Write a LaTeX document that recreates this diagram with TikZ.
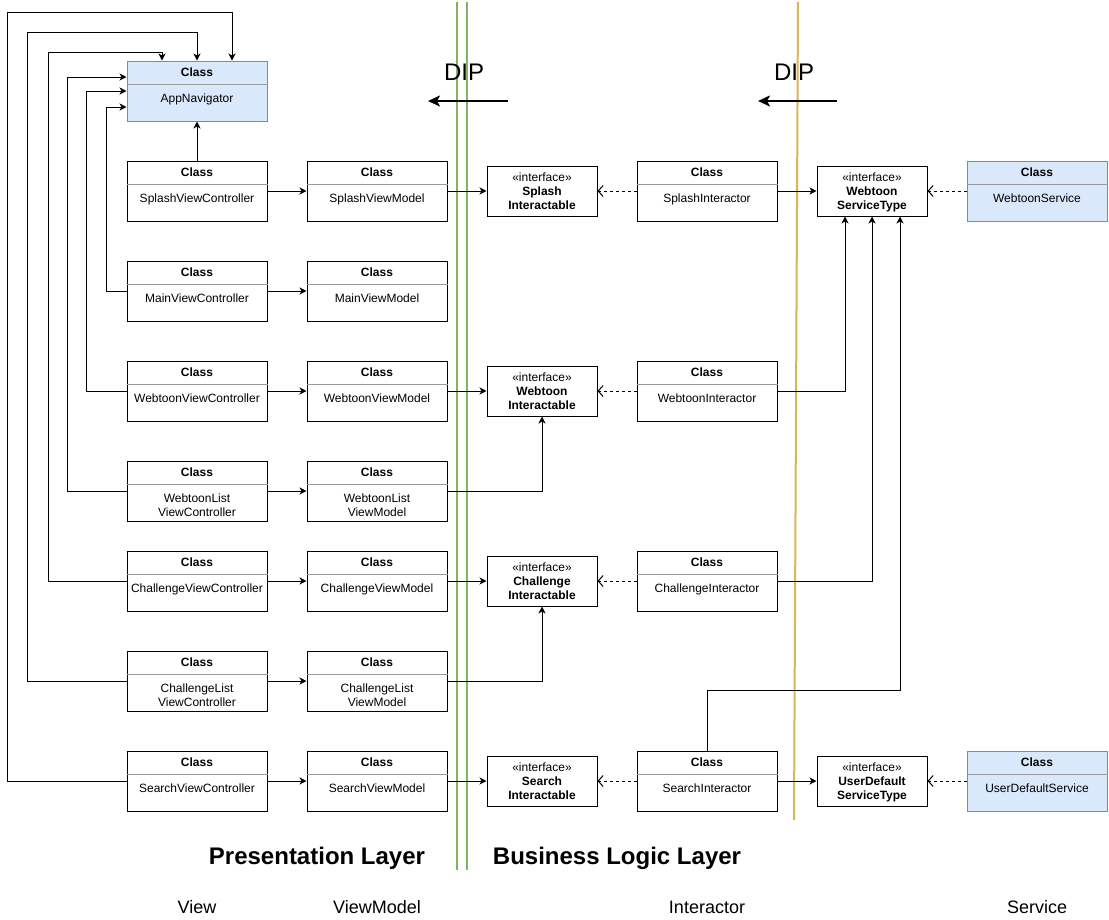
\documentclass[tikz,border=0pt]{standalone}
\usepackage{fontspec}
\setmainfont{Liberation Sans}
\usetikzlibrary{arrows.meta, positioning, calc}
\definecolor{navblue}{HTML}{DAE8FC}
\definecolor{navborder}{HTML}{6C8EBF}
\definecolor{layergreen}{HTML}{82B366}
\definecolor{layeryellow}{HTML}{D6B656}
\definecolor{rulegray}{HTML}{9A9A9A}

% class box with header "Class", separator and body text
\newcommand{\umlclass}[4][classbox]{%
	\node[#1] (#2) at (#3) {};
	\node[font=\bfseries\fontsize{12}{14}\selectfont] at ([yshift=-12pt]#2.north) {Class};
	\draw[rulegray, line width=0.8pt] ([yshift=-24pt]#2.north west) -- ([yshift=-24pt]#2.north east);
	\node[anchor=north, align=center] at ([yshift=-33pt]#2.north) {#4};
}

\begin{document}
\begin{tikzpicture}[x=1pt, y=-1pt,
	every node/.style={font=\fontsize{12}{14}\selectfont, inner sep=0pt},
	classbox/.style={draw=black, line width=1pt, minimum width=140pt, minimum height=60pt},
	svcbox/.style={classbox, draw=navborder, fill=navblue},
	ifacebox/.style={draw=black, line width=1pt, minimum width=110pt, minimum height=50pt, align=center, text depth=-2pt},
	arr/.style={line width=1pt, -{Stealth[length=7pt, width=7pt, inset=2pt]}},
	dep/.style={line width=1pt, dash pattern=on 3pt off 3pt, -{Straight Barb[length=5pt, width=11pt]}},
	diparr/.style={line width=2pt, -{Stealth[length=12pt, width=11pt, inset=3pt]}},
	layer/.style={line width=2pt}]
	\useasboundingbox (0,0) rectangle (1109,919);
	\pgfmathsetmacro{\colvc}{197}
	\pgfmathsetmacro{\colvm}{377}
	\pgfmathsetmacro{\colif}{542}
	\pgfmathsetmacro{\colit}{707}
	\pgfmathsetmacro{\colst}{872}
	\pgfmathsetmacro{\colsv}{1037}

	% layer borders
	\draw[layer, layergreen] (457,2) -- (457,870);
	\draw[layer, layergreen] (467,2) -- (467,870);
	\draw[layer, layeryellow] (798,2) -- (794,820);

	% DIP hints
	\node[font=\fontsize{24}{28}\selectfont] (dipa) at (464,72) {DIP};
	\node[font=\fontsize{24}{28}\selectfont] (dipb) at (794,72) {DIP};
	\coordinate (dipa1) at (508,101);
	\coordinate (dipa2) at (428,101);
	\coordinate (dipb1) at (837,101);
	\coordinate (dipb2) at (758,101);
	\draw[diparr] (dipa1) -- (dipa2);
	\draw[diparr] (dipb1) -- (dipb2);

	% view
	\umlclass[svcbox]{appnav}{\colvc,91}{AppNavigator}
	\umlclass{splashvc}{\colvc,191}{SplashViewController}
	\umlclass{mainvc}{\colvc,291}{MainViewController}
	\umlclass{webtoonvc}{\colvc,391}{WebtoonViewController}
	\umlclass{webtoonlistvc}{\colvc,491}{WebtoonList\\ViewController}
	\umlclass{challengevc}{\colvc,581}{ChallengeViewController}
	\umlclass{challengelistvc}{\colvc,681}{ChallengeList\\ViewController}
	\umlclass{searchvc}{\colvc,781}{SearchViewController}

	% viewmodel
	\umlclass{splashvm}{\colvm,191}{SplashViewModel}
	\umlclass{mainvm}{\colvm,291}{MainViewModel}
	\umlclass{webtoonvm}{\colvm,391}{WebtoonViewModel}
	\umlclass{webtoonlistvm}{\colvm,491}{WebtoonList\\ViewModel}
	\umlclass{challengevm}{\colvm,581}{ChallengeViewModel}
	\umlclass{challengelistvm}{\colvm,681}{ChallengeList\\ViewModel}
	\umlclass{searchvm}{\colvm,781}{SearchViewModel}

	% interactable interfaces
	\node[ifacebox] (splashif) at (\colif,191) {«interface»\\\textbf{Splash}\\\textbf{Interactable}};
	\node[ifacebox] (webtoonif) at (\colif,391) {«interface»\\\textbf{Webtoon}\\\textbf{Interactable}};
	\node[ifacebox] (challengeif) at (\colif,581) {«interface»\\\textbf{Challenge}\\\textbf{Interactable}};
	\node[ifacebox] (searchif) at (\colif,781) {«interface»\\\textbf{Search}\\\textbf{Interactable}};

	% interactor
	\umlclass{splashit}{\colit,191}{SplashInteractor}
	\umlclass{webtoonit}{\colit,391}{WebtoonInteractor}
	\umlclass{challengeit}{\colit,581}{ChallengeInteractor}
	\umlclass{searchit}{\colit,781}{SearchInteractor}

	% service types and services
	\node[ifacebox] (webtoonst) at (\colst,191) {«interface»\\\textbf{Webtoon}\\\textbf{ServiceType}};
	\node[ifacebox] (userdefaultst) at (\colst,781) {«interface»\\\textbf{UserDefault}\\\textbf{ServiceType}};
	\umlclass[svcbox]{webtoonsv}{\colsv,191}{WebtoonService}
	\umlclass[svcbox]{userdefaultsv}{\colsv,781}{UserDefaultService}

	% navigator links
	\draw[arr] (splashvc) -- (appnav);
	\draw[arr] (mainvc.west) -- ++(-20,0) |- ([yshift=-16pt]appnav.west);
	\draw[arr] (webtoonvc.west) -- ++(-40,0) |- (appnav.west);
	\draw[arr] (webtoonlistvc.west) -- ++(-59,0) |- ([yshift=14pt]appnav.west);
	\draw[arr] (challengevc.west) -| (48,52) -| ([xshift=-35pt]appnav.north);
	\draw[arr] (challengelistvc.west) -| (27,32) -| (appnav.north);
	\draw[arr] (searchvc.west) -| (7,12) -| ([xshift=35pt]appnav.north);

	% view -> viewmodel
	\draw[arr] (splashvc) -- (splashvm);
	\draw[arr] (mainvc) -- (mainvm);
	\draw[arr] (webtoonvc) -- (webtoonvm);
	\draw[arr] (webtoonlistvc) -- (webtoonlistvm);
	\draw[arr] (challengevc) -- (challengevm);
	\draw[arr] (challengelistvc) -- (challengelistvm);
	\draw[arr] (searchvc) -- (searchvm);

	% viewmodel -> interactable
	\draw[arr] (splashvm) -- (splashif);
	\draw[arr] (webtoonvm) -- (webtoonif);
	\draw[arr] (webtoonlistvm.east) -| (webtoonif.south);
	\draw[arr] (challengevm) -- (challengeif);
	\draw[arr] (challengelistvm.east) -| (challengeif.south);
	\draw[arr] (searchvm) -- (searchif);

	% interactor realizes interactable
	\draw[dep] (splashit) -- (splashif);
	\draw[dep] (webtoonit) -- (webtoonif);
	\draw[dep] (challengeit) -- (challengeif);
	\draw[dep] (searchit) -- (searchif);

	% interactor -> service type
	\draw[arr] (splashit) -- (webtoonst);
	\draw[arr] (webtoonit.east) -| ([xshift=-27pt]webtoonst.south);
	\draw[arr] (challengeit.east) -| (webtoonst.south);
	\draw[arr] (searchit.north) -- ++(0,-60) -| ([xshift=28pt]webtoonst.south);
	\draw[arr] (searchit) -- (userdefaultst);

	% service realizes service type
	\draw[dep] (webtoonsv) -- (webtoonst);
	\draw[dep] (userdefaultsv) -- (userdefaultst);

	% captions
	\node[font=\bfseries\fontsize{24}{28}\selectfont] (presentation) at (317,858) {Presentation Layer};
	\node[font=\bfseries\fontsize{24}{28}\selectfont] (business) at (617,858) {Business Logic Layer};
	\node[font=\fontsize{18}{21}\selectfont] (viewcap) at (\colvc,907) {View};
	\node[font=\fontsize{18}{21}\selectfont] (vmcap) at (\colvm,907) {ViewModel};
	\node[font=\fontsize{18}{21}\selectfont] (itcap) at (\colit,907) {Interactor};
	\node[font=\fontsize{18}{21}\selectfont] (svcap) at (\colsv,907) {Service};
\end{tikzpicture}
\end{document}
